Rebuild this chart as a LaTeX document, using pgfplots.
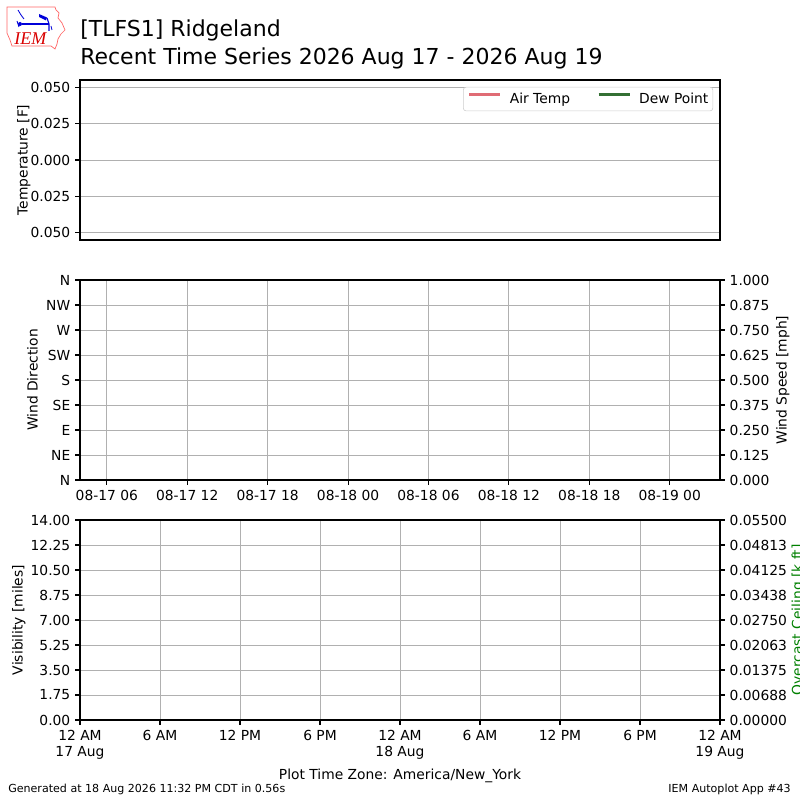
\documentclass[border=0pt]{standalone}
\usepackage{fontspec}
\setmainfont{DejaVu Sans}
\newfontfamily\logoserif{Liberation Serif}
\usepackage{pgfplots}
\pgfplotsset{compat=1.18}
\definecolor{airred}{RGB}{224,108,117}
\definecolor{dewgreen}{RGB}{52,112,52}
\definecolor{mplgreen}{RGB}{0,128,0}
\definecolor{gridgray}{RGB}{176,176,176}
\pgfplotsset{
  iem/.style={
    scale only axis, width=462.53pt, anchor=south west,
    axis line style={black,line width=0.8pt},
    every tick/.style={black,line width=0.8pt},
    major tick length=3.5pt, tick align=outside,
    tick label style={font=\fontsize{10}{12}\selectfont},
    /pgf/number format/assume math mode=true,
    scaled ticks=false,
    grid style={color=gridgray,line width=0.7pt},
    xtick pos=left, ytick pos=left,
  },
  iemright/.style={
    scale only axis, width=462.53pt, anchor=south west,
    axis line style={black,line width=0.8pt},
    every tick/.style={black,line width=0.8pt},
    major tick length=3.5pt, tick align=outside,
    tick label style={font=\fontsize{10}{12}\selectfont},
    /pgf/number format/assume math mode=true,
    scaled ticks=false,
    xtick=\empty, ytick pos=right,
  },
}
\begin{document}
\begin{tikzpicture}
\useasboundingbox (0pt,0pt) rectangle (578.16pt,578.16pt);
% ---------- top panel: temperature
\begin{axis}[iem, at={(57.816pt,404.71pt)}, height=115.63pt,
  xmin=4, xmax=51.75, ymin=-0.055, ymax=0.055,
  xtick=\empty,
  ytick={-0.05,-0.025,0,0.025,0.05},
  yticklabels={0.050,0.025,0.000,0.025,0.050},
  ymajorgrids,
  legend columns=2, legend cell align=left,
  legend style={at={(1,1)}, anchor=north east, xshift=-5pt, yshift=-5pt,
    draw=black!20, rounded corners=2pt, fill=white,
    font=\fontsize{10}{12}\selectfont, inner xsep=3.2pt, inner ysep=4pt,
    nodes={inner sep=0pt},
    /tikz/every odd column/.append style={column sep=5.8pt},
    /tikz/every even column/.append style={column sep=19.5pt}},
  legend image code/.code={\draw[#1,line width=2.2pt] (0pt,0.35em) -- (22.4pt,0.35em);},
]
\addlegendimage{color=airred}
\addlegendentry{Air Temp}
\addlegendimage{color=dewgreen}
\addlegendentry{Dew Point}
\end{axis}
% ---------- middle panel: wind
\begin{axis}[iem, at={(57.816pt,231.26pt)}, height=144.54pt,
  xmin=4, xmax=51.75, ymin=0, ymax=360,
  xtick={6,12,18,24,30,36,42,48},
  xticklabels={08-17 06,08-17 12,08-17 18,08-18 00,08-18 06,08-18 12,08-18 18,08-19 00},
  ytick={0,45,90,135,180,225,270,315,360},
  yticklabels={N,NE,E,SE,S,SW,W,NW,N},
  xmajorgrids, ymajorgrids,
]
\end{axis}
\begin{axis}[iemright, at={(57.816pt,231.26pt)}, height=144.54pt,
  xmin=4, xmax=51.75, ymin=0, ymax=1,
  ytick={0,0.125,0.25,0.375,0.5,0.625,0.75,0.875,1},
  yticklabels={0.000,0.125,0.250,0.375,0.500,0.625,0.750,0.875,1.000},
]
\end{axis}
% ---------- bottom panel: visibility / ceiling
\begin{axis}[iem, at={(57.816pt,57.816pt)}, height=144.54pt,
  xmin=0, xmax=48, ymin=0, ymax=14,
  xtick={0,6,12,18,24,30,36,42,48},
  xticklabels={{12 AM\\17 Aug},6 AM,12 PM,6 PM,{12 AM\\18 Aug},6 AM,12 PM,6 PM,{12 AM\\19 Aug}},
  xticklabel style={align=center},
  ytick={0,1.75,3.5,5.25,7,8.75,10.5,12.25,14},
  yticklabels={0.00,1.75,3.50,5.25,7.00,8.75,10.50,12.25,14.00},
  xmajorgrids, ymajorgrids,
]
\end{axis}
\begin{axis}[iemright, at={(57.816pt,57.816pt)}, height=144.54pt,
  xmin=0, xmax=48, ymin=0, ymax=0.055,
  ytick={0,0.006875,0.01375,0.020625,0.0275,0.034375,0.04125,0.048125,0.055},
  yticklabels={0.00000,0.00688,0.01375,0.02063,0.02750,0.03438,0.04125,0.04813,0.05500},
]
\end{axis}
% ---------- texts in pixel coordinates (y downward)
\begin{scope}[x=0.7227pt,y=-0.7227pt,shift={(0pt,578.16pt)}]
  \node[anchor=base west,inner sep=0,font=\fontsize{15.9}{18}\selectfont] at (80,36.7) {[TLFS1] Ridgeland};
  \node[anchor=base west,inner sep=0,font=\fontsize{15.9}{18}\selectfont] at (80,64.3) {Recent Time Series 2026 Aug 17 - 2026 Aug 19};
  \node[anchor=base,inner sep=0,rotate=90,font=\fontsize{10}{12}\selectfont] at (27.5,160) {Temperature [F]};
  \node[anchor=base,inner sep=0,rotate=90,font=\fontsize{10}{12}\selectfont] at (37.5,380) {Wind Direction};
  \node[anchor=base,inner sep=0,rotate=90,font=\fontsize{10}{12}\selectfont] at (22.5,620) {Visibility [miles]};
  \node[anchor=base,inner sep=0,rotate=90,font=\fontsize{10}{12}\selectfont] at (786.5,380) {Wind Speed [mph]};
  \node[anchor=base,inner sep=0,rotate=90,text=mplgreen,font=\fontsize{10}{12}\selectfont] at (802,620) {Overcast Ceiling [k ft]};
  \node[anchor=base,inner sep=0,font=\fontsize{10}{12}\selectfont] at (400,779) {Plot Time Zone: America/New\_York};
  \node[anchor=base west,inner sep=0,font=\fontsize{8}{10}\selectfont] at (8,792) {Generated at 18 Aug 2026 11:32 PM CDT in 0.56s};
  \node[anchor=base east,inner sep=0,font=\fontsize{8}{10}\selectfont] at (791,792) {IEM Autoplot App \#43};
  % logo
  \draw[red!60,line width=0.5pt] (7,7) -- (55,7) -- (56,10) -- (59,13) -- (58,18) -- (62,23) -- (65,30) -- (61,34) -- (58,39) -- (57,44) -- (55,49) -- (51,46) -- (12,46) -- (10,40) -- (7,33) -- cycle;
  \draw[blue!85!black,line width=1.2pt] (22,24) -- (49,24);
  \fill[blue!85!black] (20,24) circle (2);
  \fill[blue!85!black] (39,14) -- (47,17.5) -- (46,20.5) -- (39,17) -- cycle;
  \draw[blue!85!black,line width=0.8pt] (47,18) -- (49,24) -- (49,31);
  \draw[blue!85!black,line width=0.6pt] (18,10) -- (21,15) -- (24,19);
  \draw[blue!85!black,line width=0.6pt] (17,21) -- (19,27);
  \draw[blue!85!black,line width=0.6pt] (51,26) -- (52,30);
  \node[anchor=base west,inner sep=0,text=red!85!black,font=\logoserif\itshape\fontsize{13}{13}\selectfont] at (14,45) {IEM};
\end{scope}
\end{tikzpicture}
\end{document}
